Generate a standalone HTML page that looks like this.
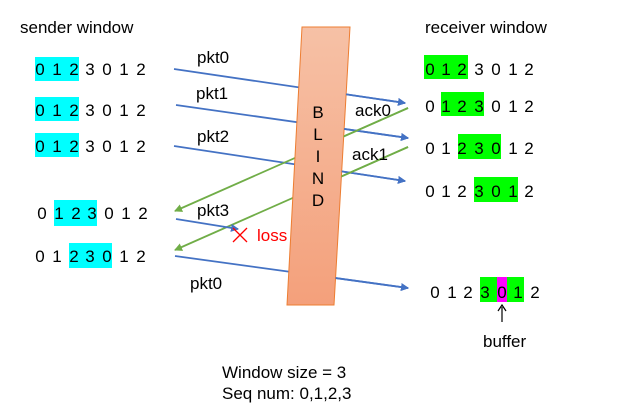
<!DOCTYPE html>
<html><head><meta charset="utf-8"><style>
html,body{margin:0;padding:0;background:#fff;}
svg{display:block;}
text{font-family:"Liberation Sans","Noto Sans CJK KR",sans-serif;font-size:17px;fill:#000;}
.d{text-anchor:middle;}
</style></head><body>
<svg width="644" height="415" viewBox="0 0 644 415">
<defs>
<linearGradient id="g" x1="0" y1="0" x2="0" y2="1"><stop offset="0" stop-color="#f6c1a6"/><stop offset="1" stop-color="#f4a07b"/></linearGradient>
<marker id="ab" markerWidth="8" markerHeight="8" refX="7" refY="4" orient="auto" markerUnits="userSpaceOnUse"><path d="M0,0 L8,4 L0,8 z" fill="#4472c4"/></marker>
<marker id="ag" markerWidth="8" markerHeight="8" refX="7" refY="4" orient="auto" markerUnits="userSpaceOnUse"><path d="M0,0 L8,4 L0,8 z" fill="#70ad47"/></marker>
<clipPath id="rc"><polygon points="351.5,0 644,0 644,415 327.7,415"/></clipPath>
<g id="lines" stroke-width="1.8" fill="none">
<line x1="174" y1="69" x2="405" y2="103" stroke="#4472c4" marker-end="url(#ab)"/>
<line x1="176" y1="105" x2="408" y2="138" stroke="#4472c4" marker-end="url(#ab)"/>
<line x1="174" y1="146" x2="405" y2="181" stroke="#4472c4" marker-end="url(#ab)"/>
<line x1="175" y1="256" x2="408" y2="288" stroke="#4472c4" marker-end="url(#ab)"/>
<line x1="408" y1="108" x2="175" y2="211" stroke="#70ad47" marker-end="url(#ag)"/>
<line x1="408" y1="147" x2="175" y2="250" stroke="#70ad47" marker-end="url(#ag)"/>
</g>
</defs>
<text x="20" y="33">sender window</text>
<text x="425" y="33">receiver window</text>
<rect x="35" y="57" width="44" height="24" fill="#00ffff"/>
<rect x="35" y="97" width="44" height="24" fill="#00ffff"/>
<rect x="35" y="133" width="44" height="24" fill="#00ffff"/>
<rect x="54" y="200" width="43" height="26" fill="#00ffff"/>
<rect x="69" y="243" width="43" height="25" fill="#00ffff"/>
<g class="d">
<text x="40" y="75">0</text><text x="57" y="75">1</text><text x="74" y="75">2</text><text x="90" y="75">3</text><text x="107" y="75">0</text><text x="124" y="75">1</text><text x="141" y="75">2</text>
<text x="40" y="116">0</text><text x="57" y="116">1</text><text x="74" y="116">2</text><text x="90" y="116">3</text><text x="107" y="116">0</text><text x="124" y="116">1</text><text x="141" y="116">2</text>
<text x="40" y="152">0</text><text x="57" y="152">1</text><text x="74" y="152">2</text><text x="90" y="152">3</text><text x="107" y="152">0</text><text x="124" y="152">1</text><text x="141" y="152">2</text>
<text x="42" y="219">0</text><text x="59" y="219">1</text><text x="76" y="219">2</text><text x="92" y="219">3</text><text x="109" y="219">0</text><text x="126" y="219">1</text><text x="143" y="219">2</text>
<text x="40" y="262">0</text><text x="57" y="262">1</text><text x="74" y="262">2</text><text x="90" y="262">3</text><text x="107" y="262">0</text><text x="124" y="262">1</text><text x="141" y="262">2</text>
</g>
<rect x="424" y="55" width="44" height="24" fill="#00ff00"/>
<rect x="441" y="92" width="43" height="24" fill="#00ff00"/>
<rect x="458" y="134" width="43" height="25" fill="#00ff00"/>
<rect x="474" y="177" width="44" height="25" fill="#00ff00"/>
<rect x="480" y="277" width="44" height="25" fill="#00ff00"/>
<rect x="497" y="277" width="10" height="25" fill="#ff00ff"/>
<g class="d">
<text x="430" y="75">0</text><text x="446" y="75">1</text><text x="462" y="75">2</text><text x="479" y="75">3</text><text x="496" y="75">0</text><text x="513" y="75">1</text><text x="529" y="75">2</text>
<text x="430" y="112">0</text><text x="446" y="112">1</text><text x="462" y="112">2</text><text x="479" y="112">3</text><text x="496" y="112">0</text><text x="513" y="112">1</text><text x="529" y="112">2</text>
<text x="430" y="154">0</text><text x="446" y="154">1</text><text x="462" y="154">2</text><text x="479" y="154">3</text><text x="496" y="154">0</text><text x="513" y="154">1</text><text x="529" y="154">2</text>
<text x="430" y="197">0</text><text x="446" y="197">1</text><text x="462" y="197">2</text><text x="479" y="197">3</text><text x="496" y="197">0</text><text x="513" y="197">1</text><text x="529" y="197">2</text>
<text x="435" y="298">0</text><text x="452" y="298">1</text><text x="468" y="298">2</text><text x="485" y="298">3</text><text x="502" y="298">0</text><text x="518" y="298">1</text><text x="535" y="298">2</text>
</g>
<use href="#lines"/>
<line x1="176" y1="219" x2="238" y2="229" stroke="#4472c4" stroke-width="1.8" marker-end="url(#ab)"/>
<polygon points="302,27 350,27 334,305 287,305" fill="url(#g)" stroke="#ed7d31" stroke-width="1"/>
<use href="#lines" clip-path="url(#rc)"/>
<g class="d">
<text x="318" y="118">B</text><text x="318" y="140">L</text><text x="318" y="162">I</text><text x="318" y="184">N</text><text x="318" y="206">D</text>
</g>
<text x="197" y="63">pkt0</text>
<text x="196" y="99">pkt1</text>
<text x="197" y="142">pkt2</text>
<text x="197" y="216">pkt3</text>
<text x="190" y="289">pkt0</text>
<text x="355" y="116">ack0</text>
<text x="352" y="160">ack1</text>
<path d="M233,228 L247,242 M247,228 L233,242" stroke="#ff0000" stroke-width="1.3"/>
<text x="257" y="241" style="fill:#ff0000">loss</text>
<line x1="502" y1="322" x2="502" y2="307" stroke="#000" stroke-width="1.2"/>
<path d="M498,311 L502,305 L506,311" fill="none" stroke="#000" stroke-width="1.2"/>
<text x="483" y="347">buffer</text>
<text x="222" y="378">Window size = 3</text>
<text x="222" y="399">Seq num: 0,1,2,3</text>
</svg>
</body></html>
